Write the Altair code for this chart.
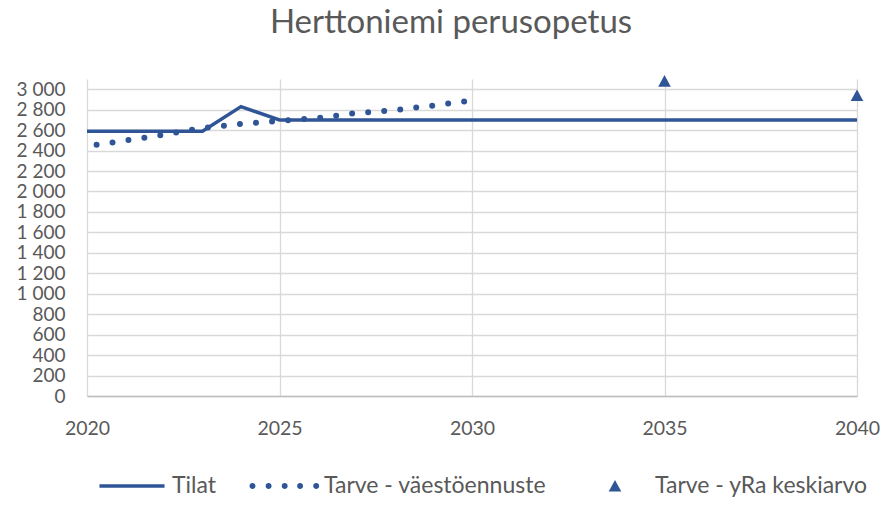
import altair as alt
import pandas as pd

BLUE = "#2F5597"
TEXT = "#595959"
FONT = "Lato"

S_TILAT = "Tilat"
S_VAESTO = "Tarve - väestöennuste"
S_YRA = "Tarve - yRa keskiarvo"

tilat_years = list(range(2020, 2041))
tilat_values = [2590, 2590, 2590, 2590, 2830, 2700, 2700, 2700, 2700, 2700, 2700,
                2700, 2700, 2700, 2700, 2700, 2700, 2700, 2700, 2700, 2700]

vaesto_years = list(range(2020, 2031))
vaesto_values = [2442, 2498, 2555, 2621, 2662, 2690, 2718, 2767, 2796, 2841, 2890]

yra_years = [2035, 2040]
yra_values = [3080, 2940]

x_ticks = [2020, 2025, 2030, 2035, 2040]
y_ticks = list(range(0, 3001, 200))

tilat_df = pd.DataFrame({"year": tilat_years, "value": tilat_values, "series": S_TILAT})
vaesto_df = pd.DataFrame({"year": vaesto_years, "value": vaesto_values, "series": S_VAESTO})
yra_df = pd.DataFrame({"year": yra_years, "value": yra_values, "series": S_YRA})

# legend symbols (unit box [-1,1] -> 70 px with size 4900)
LINE_PATH = "M-0.93,-0.05H0.93V0.05H-0.93Z"
def circ(cx, r=0.085):
    return f"M{cx - r},0A{r},{r} 0 1,0 {cx + r},0A{r},{r} 0 1,0 {cx - r},0Z"
DOTS_PATH = "".join(circ(c) for c in [-0.9, -0.44, 0.02, 0.46, 0.92])
TRI_PATH = "M0,-0.17L0.18,0.16L-0.18,0.16Z"

x_enc = alt.X("year:Q", scale=alt.Scale(domain=[2020, 2040], nice=False, zero=False),
              axis=alt.Axis(values=x_ticks, format="d", title=None, grid=True,
                            gridColor="#d9d9d9", gridWidth=1.3, domainColor="#bfbfbf",
                            domainWidth=1.3, ticks=False, tickSize=0, labelPadding=23,
                            labelFlush=False, labelFont=FONT, labelFontSize=19.5,
                            labelColor=TEXT))
y_enc = alt.Y("value:Q", scale=alt.Scale(domain=[0, 3100], nice=False),
              axis=alt.Axis(values=y_ticks, title=None, grid=True, gridColor="#d9d9d9",
                            gridWidth=1.3, domain=False, ticks=False, tickSize=0,
                            labelPadding=22, labelFont=FONT, labelFontSize=19,
                            labelColor=TEXT,
                            labelExpr="replace(format(datum.value, ','), ',', ' ')"))

tilat = alt.Chart(tilat_df).mark_line(color=BLUE, strokeWidth=3.5).encode(x=x_enc, y=y_enc)

vaesto = alt.Chart(vaesto_df).mark_line(
    color=BLUE, strokeWidth=6, strokeCap="round", strokeDash=[0, 16.1],
    strokeDashOffset=6.4).encode(x=x_enc, y=y_enc)

yra = alt.Chart(yra_df).mark_point(filled=True, color=BLUE, opacity=1, size=4900).encode(
    x=x_enc, y=y_enc,
    shape=alt.Shape("series:N",
                    scale=alt.Scale(domain=[S_TILAT, S_VAESTO, S_YRA],
                                    range=[LINE_PATH, DOTS_PATH, TRI_PATH]),
                    legend=alt.Legend(title=None, orient="none", direction="horizontal",
                                      legendX=10, legendY=372, symbolSize=4900,
                                      symbolFillColor=BLUE, symbolStrokeWidth=0,
                                      labelFont=FONT, labelFontSize=23, labelColor=TEXT,
                                      labelOffset=5, columnPadding=33, labelLimit=400,
                                      padding=0)))

chart = alt.layer(tilat, vaesto, yra).properties(
    width=770, height=317,
    autosize=alt.AutoSizeParams(type="none"),
    padding={"left": 79, "top": 71, "right": 23, "bottom": 102},
    title=alt.TitleParams("Herttoniemi perusopetus", font=FONT, fontSize=33,
                          fontWeight="normal", color=TEXT, anchor="middle",
                          dx=-21, offset=35),
).configure_view(stroke=None)

chart.save("out.html", embed_options={"renderer": "svg", "actions": False})
